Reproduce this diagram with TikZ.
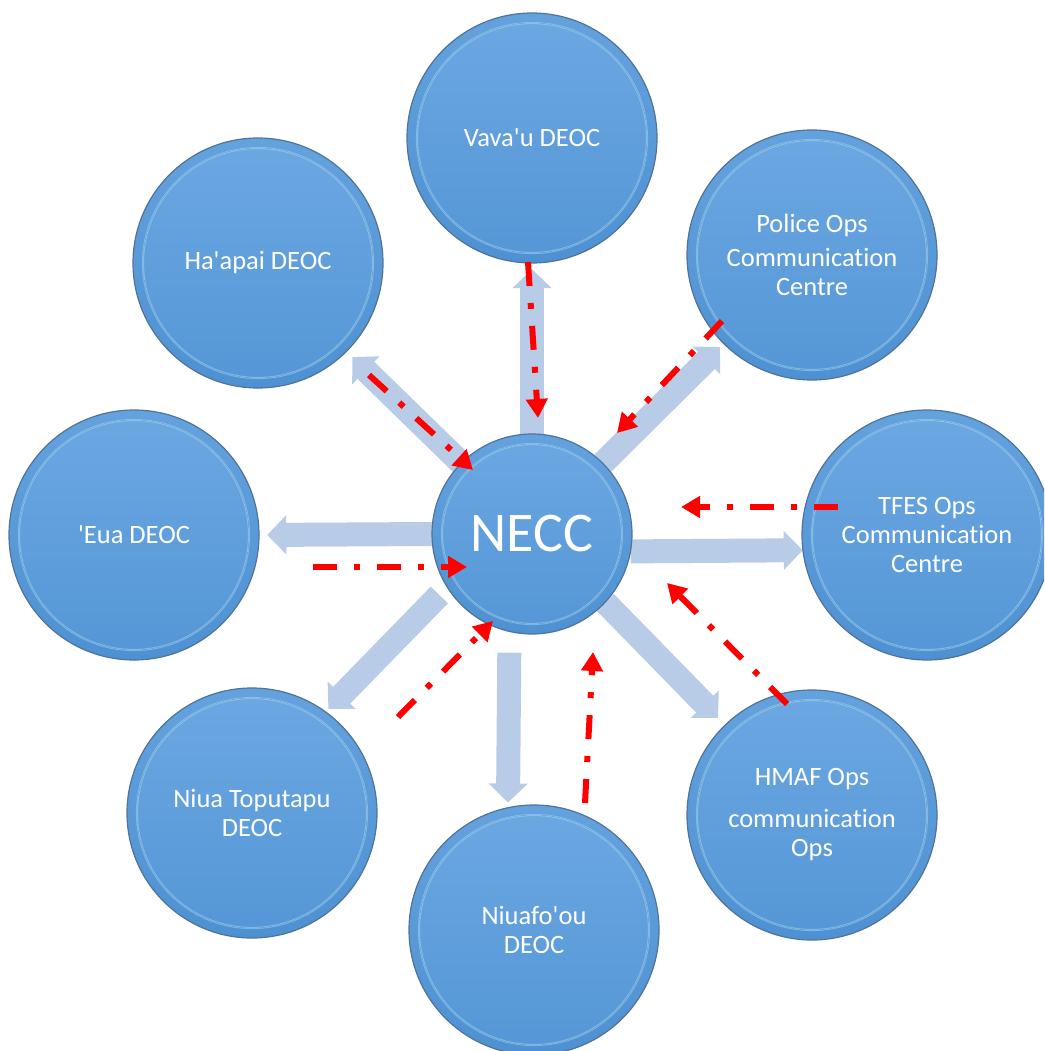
\documentclass[tikz,border=0pt]{standalone}
\usepackage{fontspec}
\newfontfamily\lab{Carlito}[Ligatures={NoCommon}]
\usetikzlibrary{arrows.meta}

\definecolor{rimdark}{RGB}{80,115,152}
\definecolor{bandtop}{RGB}{100,162,222}
\definecolor{bandbot}{RGB}{78,145,210}
\definecolor{facetop}{RGB}{108,168,226}
\definecolor{facebot}{RGB}{84,150,214}
\definecolor{rimlight}{RGB}{165,215,245}
\definecolor{blockarrow}{RGB}{184,204,232}
\definecolor{flowred}{RGB}{255,0,0}

\tikzset{
  bub/.style={circle, minimum size=2*#1, inner sep=0pt, align=center,
    top color=bandtop, bottom color=bandbot, draw=rimdark, line width=1.2pt,
    text=white, font=\lab\fontsize{26.5}{29}\selectfont,
    path picture={
      \fill[top color=facetop, bottom color=facebot]
        (path picture bounding box.center) circle ({#1-10});
      \draw[rimlight, line width=2.2pt, opacity=0.5]
        (path picture bounding box.center) circle ({#1-10});
    }},
  block/.style={blockarrow, line width=24pt,
    -{Triangle[length=19pt,width=38pt]}},
  flow/.style={flowred, line width=6pt,
    dash pattern=on 24pt off 17pt on 6pt off 17pt,
    -{Triangle[length=19pt,width=21pt]}}
}

\begin{document}
\begin{tikzpicture}[x=1pt,y=-1pt]
\useasboundingbox (0,0) rectangle (1044,1051);
\clip (0,0) rectangle (1044,1051);

% positions of the centres (circles drawn later, on top of the block arrows)
\coordinate (c-necc)   at (532,534);
\coordinate (c-vavau)  at (532,138);
\coordinate (c-police) at (812,255);
\coordinate (c-tfes)   at (927,535);
\coordinate (c-hmaf)   at (812,815);
\coordinate (c-niuafo) at (534,930);
\coordinate (c-niuat)  at (252,813);
\coordinate (c-eua)    at (134,535);
\coordinate (c-hapai)  at (258,263);

% invisible anchors for the block arrows
\begin{scope}[every node/.style={circle, inner sep=0pt}]
  \node[minimum size=200pt] (necc)   at (c-necc) {};
  \node[minimum size=250pt] (vavau)  at (c-vavau) {};
  \node[minimum size=250pt] (police) at (c-police) {};
  \node[minimum size=250pt] (tfes)   at (c-tfes) {};
  \node[minimum size=250pt] (hmaf)   at (c-hmaf) {};
  \node[minimum size=250pt] (niuafo) at (c-niuafo) {};
  \node[minimum size=250pt] (niuat)  at (c-niuat) {};
  \node[minimum size=250pt] (eua)    at (c-eua) {};
  \node[minimum size=250pt] (hapai)  at (c-hapai) {};
\end{scope}

% outgoing block arrows from the centre
\draw[block, shorten >=6pt] (necc.90) -- (vavau.270);
\draw[block] (necc.-10) -- (tfes.187);
\draw[block, shorten >=8pt] (necc.180) -- (eua.0);
\draw[block, shorten <=21pt, shorten >=5pt] (necc.-103.6) -- (niuafo.102);
\draw[block, shorten <=11pt, shorten >=4pt] (necc.212.7) -- (niuat.54.5);
\draw[block, shorten >=10pt] (necc.-43.4) -- (hmaf.134);
\draw[block, shorten >=5pt] (necc.45) -- (police.225);
\draw[block, shorten >=8pt] (necc.135) -- (hapai.-45);

% the circles
\node[bub=100pt] (neccB) at (c-necc) {\lab\fontsize{56}{60}\selectfont NECC};
\node[bub=125pt] (vavauB)  at (c-vavau)  {Vava'u DEOC};
\node[bub=125pt] (policeB) at (c-police) {Police Ops\\[5pt]Communication\\Centre};
\node[bub=125pt] (tfesB)   at (c-tfes)   {TFES Ops\\Communication\\Centre};
\node[bub=125pt] (hmafB)   at (c-hmaf)   {HMAF Ops\\[13pt]communication\\Ops};
\node[bub=125pt] (niuafoB) at (c-niuafo) {Niuafo'ou\\DEOC};
\node[bub=125pt] (niuatB)  at (c-niuat)  {Niua Toputapu\\DEOC};
\node[bub=125pt] (euaB)    at (c-eua)    {'Eua DEOC};
\node[bub=125pt] (hapaiB)  at (c-hapai)  {Ha'apai DEOC};

% incoming reporting lines (dash-dot, red)
\coordinate (r1s) at (528,262); \coordinate (r1e) at (538,418);
\coordinate (r2s) at (722,321); \coordinate (r2e) at (617,433);
\coordinate (r3s) at (838,507); \coordinate (r3e) at (681,507);
\coordinate (r4s) at (787,704); \coordinate (r4e) at (667,583);
\coordinate (r5s) at (585,803); \coordinate (r5e) at (593,652);
\coordinate (r6s) at (398,717); \coordinate (r6e) at (493,621);
\coordinate (r7s) at (313,567); \coordinate (r7e) at (467,567);
\coordinate (r8s) at (369,375); \coordinate (r8e) at (473,470);
\foreach \i in {1,...,8}{
  \draw[flow] (r\i s) -- (r\i e);
}
\end{tikzpicture}
\end{document}
